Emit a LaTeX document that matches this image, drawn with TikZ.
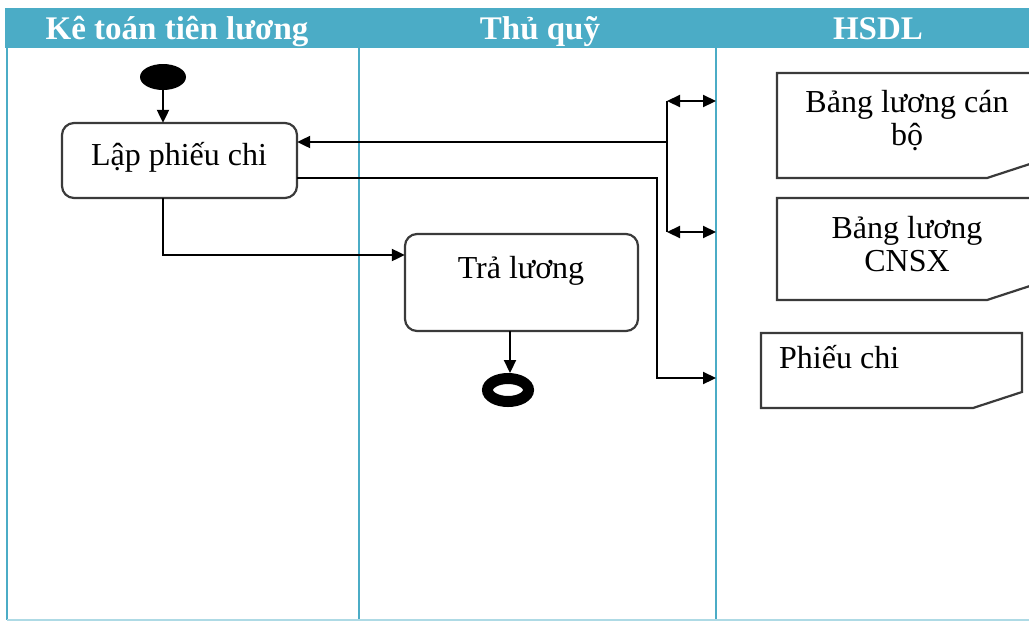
\documentclass[tikz,border=0pt]{standalone}
\usepackage{fontspec}
\setmainfont{Liberation Serif}
\usetikzlibrary{arrows.meta,shapes.geometric}
\definecolor{lanecol}{HTML}{4BACC6}
\definecolor{boxcol}{HTML}{3A3A3A}
\tikzset{
  hdr/.style={text=white,font=\fontsize{33}{34}\selectfont\bfseries,anchor=base,inner sep=0pt},
  lane/.style={draw=lanecol,line width=2pt},
  act/.style={draw=boxcol,line width=2.2pt,rounded corners=12pt,fill=white},
  txt/.style={font=\fontsize{32}{33}\selectfont,align=center,inner sep=0pt},
  conn/.style={draw=black,line width=2.2pt,-{Triangle[length=13pt,width=12pt]}},
  dconn/.style={draw=black,line width=2.2pt,{Triangle[length=13pt,width=12pt]}-{Triangle[length=13pt,width=12pt]}},
  plain/.style={draw=black,line width=2.2pt},
  docb/.style={draw=boxcol,line width=2.2pt,fill=white},
}
\begin{document}
\begin{tikzpicture}[x=1pt,y=-1pt]
\useasboundingbox (0,0) rectangle (1029,622);
\begin{scope}
\clip (0,0) rectangle (1029,622);
% header
\fill[lanecol] (5,8) rectangle (1045,48);
\node[hdr] (h1) at (177,39) {Kê toán tiên lương};
\node[hdr] (h2) at (540,39) {Thủ quỹ};
\node[hdr] (h3) at (878,39) {HSDL};
% lanes
\draw[lane] (7,48) -- (7,620);
\draw[lane] (359,48) -- (359,620);
\draw[lane] (716,48) -- (716,620);
\draw[draw=lanecol!45,line width=1.5pt] (7,620) -- (1045,620);
% start / end
\node[ellipse,fill=black,minimum width=46pt,minimum height=26pt,inner sep=0pt] (start) at (163,77) {};
\node[ellipse,draw=black,line width=11pt,fill=white,minimum width=41pt,minimum height=23pt,inner sep=0pt] (end) at (508,390) {};
% activities
\draw[act] (62,123) rectangle (297,198);
\node[inner sep=0pt,minimum width=235pt,minimum height=75pt] (lap) at (179.5,160.5) {};
\node[txt,anchor=base] (laptxt) at (179,165) {Lập phiếu chi};
\draw[act] (405,234) rectangle (638,331);
\node[inner sep=0pt,minimum width=233pt,minimum height=97pt] (tra) at (521.5,282.5) {};
\node[txt,anchor=base] (tratxt) at (521,278) {Trả lương};
% documents
\draw[docb] (777,73) -- (1036,73) -- (1036,162) -- (987,178) -- (777,178) -- cycle;
\node[txt] (d1) at (907,121) {Bảng lương cán\\bộ};
\draw[docb] (777,198) -- (1036,198) -- (1036,284) -- (987,300) -- (777,300) -- cycle;
\node[txt] (d2) at (907,244) {Bảng lương\\CNSX};
\draw[docb] (761,333) -- (1022,333) -- (1022,392) -- (973,408) -- (761,408) -- cycle;
\node[txt,anchor=base west] (d3) at (779,368) {Phiếu chi};
% coordinates
\coordinate (j1) at (667,142);
\coordinate (a1) at (716,101);
\coordinate (a2) at (716,232);
\coordinate (a3) at (716,378);
% connectors
\draw[conn] (start) -- (lap.north -| start);
\draw[conn] (j1) -- (lap.east |- j1);
\draw[plain] (667,101) -- (667,232);
\draw[dconn] (667,101) -- (a1);
\draw[dconn] (667,232) -- (a2);
\draw[conn] (lap.east |- 0,178) -- (657,178) -- (657,378) -- (a3);
\draw[conn] (163,198) -- (163,255) -- (tra.west |- 0,255);
\draw[conn] (510,331) -- (end.north -| 510,0);
\end{scope}
\end{tikzpicture}
\end{document}
